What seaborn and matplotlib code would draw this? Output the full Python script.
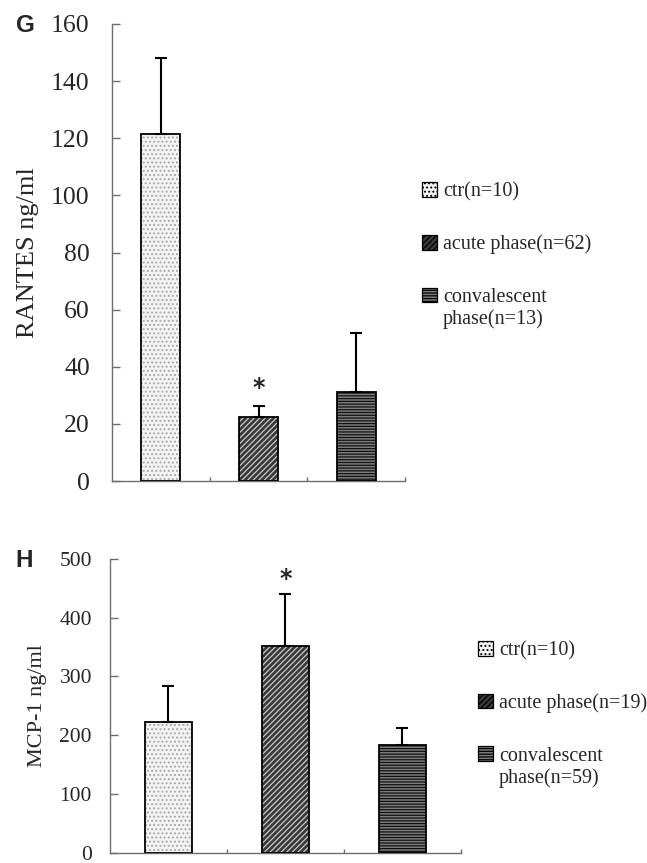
import matplotlib
matplotlib.use('Agg')
import matplotlib.pyplot as plt
from matplotlib.patches import Patch, Rectangle
from matplotlib.text import Annotation
import pandas as pd
import seaborn as sns

groups = ['ctr', 'acute', 'convalescent']

rantes_mean = [121.5, 22.5, 31.3]
rantes_sd = [26.7, 3.9, 20.6]
rantes_labels = ['ctr(n=10)', 'acute phase(n=62)', 'convalescent', 'phase(n=13)']
rantes_ticks = [0, 20, 40, 60, 80, 100, 120, 140, 160]

mcp1_mean = [222, 352, 184]
mcp1_sd = [61, 88.5, 28]
mcp1_labels = ['ctr(n=10)', 'acute phase(n=19)', 'convalescent', 'phase(n=59)']
mcp1_ticks = [0, 100, 200, 300, 400, 500]

# fill styles per group: face, hatch, hatch colour
styles = {
    'ctr': ('#f3f3f3', '....', '#a8a8a8'),
    'acute': ('#383838', '//////', '#c8c8c8'),
    'convalescent': ('#7c7c7c', '------', '#111111'),
}

sns.set_style('white')
plt.rcParams['font.family'] = ['Liberation Serif', 'DejaVu Serif']
plt.rcParams['hatch.linewidth'] = 0.9

fig = plt.figure(figsize=(6.47, 8.63), dpi=100)
ax_g = fig.add_axes([0.1731, 0.4426, 0.4529, 0.5296])
ax_h = fig.add_axes([0.1700, 0.0120, 0.5425, 0.3405])


def draw_panel(ax, means, sds, ticks, ylabel, labels, tick_fs, label_fs, label_x,
               star_off, legend_xy):
    df = pd.DataFrame({'group': groups, 'value': means})
    sns.barplot(data=df, x='group', y='value', hue='group', palette=['white'] * 3,
                width=0.4, errorbar=None, legend=False, ax=ax)
    for p, g in zip(ax.patches, groups):
        face, hatch, hcol = styles[g]
        p.set_facecolor(face)
        p.set_hatch(hatch)
        p.set_edgecolor(hcol)
        p.set_linewidth(0)
        ax.add_patch(Rectangle((p.get_x(), p.get_y()), p.get_width(), p.get_height(),
                               fill=False, edgecolor='black', linewidth=1.3, zorder=3))
    ax.errorbar(range(3), means, yerr=[[0] * 3, sds], fmt='none', ecolor='black',
                elinewidth=1.5, capsize=4, capthick=1.5, zorder=2)
    ax.text(1, means[1] + sds[1] + star_off, '*', ha='center', va='bottom',
            fontsize=17, fontweight='bold', family='DejaVu Sans')

    ax.set_xlim(-0.5, 2.5)
    ax.set_ylim(ticks[0], ticks[-1])
    ax.set_yticks(ticks)
    ax.set_xticks([0.5, 1.5, 2.5])
    ax.set_xticklabels([])
    ax.set_xlabel('')
    ax.set_ylabel(ylabel, fontsize=label_fs)
    ax.yaxis.set_label_coords(label_x, 0.5)
    for s in ['top', 'right']:
        ax.spines[s].set_visible(False)
    for s in ['left', 'bottom']:
        ax.spines[s].set_color('#6e6e6e')
        ax.spines[s].set_linewidth(1.0)
    ax.tick_params(axis='y', direction='in', length=6, width=1, color='#6e6e6e',
                   labelsize=tick_fs, pad=16 if tick_fs > 17 else 13, left=True)
    ax.tick_params(axis='x', direction='in', length=3, width=1, color='#6e6e6e',
                   bottom=True)

    handles = [Patch(facecolor=styles[g][0], hatch=styles[g][1], edgecolor='black',
                     linewidth=0.9) for g in groups]
    leg = fig.legend(handles, labels[:3], loc='upper left', bbox_to_anchor=legend_xy,
                     frameon=False, fontsize=14.5, handlelength=0.75, handleheight=0.75,
                     handletextpad=0.3, labelspacing=1.65, borderpad=0, borderaxespad=0)
    # second line of the last label, hung under its first line (drawn after the legend)
    last = leg.get_texts()[2]
    second = Annotation(labels[3], xy=(0, 0), xycoords=last, xytext=(-0.4, -1.5),
                        textcoords='offset points', ha='left', va='top', fontsize=14.5,
                        annotation_clip=False)
    second.set_zorder(leg.get_zorder() + 1)
    fig.add_artist(second)


draw_panel(ax_g, rantes_mean, rantes_sd, rantes_ticks, 'RANTES ng/ml', rantes_labels,
           18.5, 19, -0.25, 2.0, (0.652, 0.789))
draw_panel(ax_h, mcp1_mean, mcp1_sd, mcp1_ticks, 'MCP-1 ng/ml', mcp1_labels,
           15.5, 16, -0.18, 5, (0.739, 0.2575))

fig.text(0.024, 0.971, 'G', fontsize=17.5, fontweight='bold', family='Liberation Sans',
         va='center', ha='left')
fig.text(0.024, 0.351, 'H', fontsize=17.5, fontweight='bold', family='Liberation Sans',
         va='center', ha='left')

fig.savefig('out.png', dpi=100)
